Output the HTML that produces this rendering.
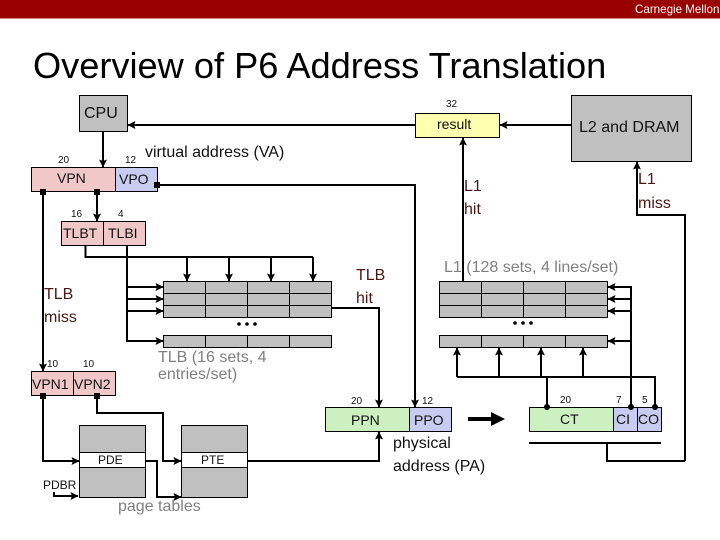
<!DOCTYPE html>
<html><head><meta charset="utf-8"><style>
html,body{margin:0;padding:0;background:#fff}
svg{display:block}
text{font-family:"Liberation Sans",Arial,sans-serif;fill:#111}
.b{fill:#c0c0c0;stroke:#000;stroke-width:1}
.l{fill:none;stroke:#000;stroke-width:2}
.h{fill:#000;stroke:none}
.m{fill:#4a1818}
.g{fill:#808080}
.s{font-size:10px}
.n{font-size:14px}
</style></head><body>
<svg width="720" height="540" viewBox="0 0 720 540" xmlns="http://www.w3.org/2000/svg">
<defs>
<marker id="a" viewBox="0 0 8 8" refX="7.5" refY="4" markerWidth="8" markerHeight="8" markerUnits="userSpaceOnUse" orient="auto"><path d="M0 0L8 4L0 8L1.5 4z" fill="#000"/></marker>
</defs>
<rect width="720" height="18.5" fill="#990000"/>
<text x="635" y="13" font-size="11.6" style="fill:#fff">Carnegie Mellon</text>
<text x="33" y="78" font-size="36.2" style="fill:#000">Overview of P6 Address Translation</text>

<!-- boxes -->
<rect x="79.5" y="95.5" width="48" height="36" class="b"/>
<rect x="415.5" y="113.5" width="84" height="24" fill="#ffffb0" stroke="#000"/>
<rect x="571.5" y="95.5" width="120" height="66" class="b"/>
<rect x="31.5" y="167.5" width="84" height="24" fill="#f0c8c8" stroke="#000"/>
<rect x="115.5" y="167.5" width="42" height="24" fill="#c8ccf0" stroke="#000"/>
<rect x="61.5" y="221.5" width="42" height="24" fill="#f0c8c8" stroke="#000"/>
<rect x="103.5" y="221.5" width="42" height="24" fill="#f0c8c8" stroke="#000"/>
<rect x="31.5" y="371.5" width="42" height="24" fill="#f0c8c8" stroke="#000"/>
<rect x="73.5" y="371.5" width="42" height="24" fill="#f0c8c8" stroke="#000"/>
<rect x="325.5" y="407.5" width="84" height="24" fill="#ccf0c0" stroke="#000"/>
<rect x="409.5" y="407.5" width="42" height="24" fill="#c8ccf0" stroke="#000"/>
<rect x="529.5" y="407.5" width="84" height="24" fill="#ccf0c0" stroke="#000"/>
<rect x="613.5" y="407.5" width="24" height="24" fill="#c8ccf0" stroke="#000"/>
<rect x="637.5" y="407.5" width="24" height="24" fill="#c8ccf0" stroke="#000"/>

<!-- TLB grid -->
<rect x="163.5" y="281.5" width="168" height="36" class="b"/>
<rect x="163.5" y="335.5" width="168" height="12" class="b"/>
<path d="M163.5 293.5H331.5M163.5 305.5H331.5M205.5 281.5V317.5M247.5 281.5V317.5M289.5 281.5V317.5M205.5 335.5V347.5M247.5 335.5V347.5M289.5 335.5V347.5" stroke="#000" fill="none"/>
<!-- L1 grid -->
<rect x="439.5" y="281.5" width="168" height="36" class="b"/>
<rect x="439.5" y="335.5" width="168" height="12" class="b"/>
<path d="M439.5 293.5H607.5M439.5 305.5H607.5M481.5 281.5V317.5M523.5 281.5V317.5M565.5 281.5V317.5M481.5 335.5V347.5M523.5 335.5V347.5M565.5 335.5V347.5" stroke="#000" fill="none"/>
<circle cx="239" cy="324" r="1.8"/><circle cx="247" cy="324" r="1.8"/><circle cx="255" cy="324" r="1.8"/>
<circle cx="515" cy="323" r="1.8"/><circle cx="523" cy="323" r="1.8"/><circle cx="531" cy="323" r="1.8"/>

<!-- page tables -->
<rect x="79.5" y="425.5" width="66" height="72" class="b"/>
<rect x="79.5" y="452.5" width="66" height="15" fill="#fff" stroke="#000"/>
<rect x="181.5" y="425.5" width="66" height="72" class="b"/>
<rect x="181.5" y="452.5" width="66" height="15" fill="#fff" stroke="#000"/>

<!-- connectors -->
<g class="l">
<path class="l" d="M571 125H500" marker-end="url(#a)"/>
<path class="l" d="M415 125H128" marker-end="url(#a)"/>
<path class="l" d="M103 131V167" marker-end="url(#a)"/>
<path class="l" d="M97 191V221" marker-end="url(#a)"/>
<path class="l" d="M43 191V371" marker-end="url(#a)"/>
<path class="l" d="M157 185H415V407" marker-end="url(#a)"/>
<path class="l" d="M463 282V138" marker-end="url(#a)"/>
<path class="l" d="M685 461V215H637V162" marker-end="url(#a)" style="stroke-linejoin:miter"/>
<path class="l" d="M607 443V461H685"/>
<path class="l" d="M529 443H661"/>
<path class="l" d="M85.5 245V257H313"/>
<path class="l" d="M187 257V281" marker-end="url(#a)"/>
<path class="l" d="M229 257V281" marker-end="url(#a)"/>
<path class="l" d="M271 257V281" marker-end="url(#a)"/>
<path class="l" d="M313 257V281" marker-end="url(#a)"/>
<path class="l" d="M127 245V341H163" marker-end="url(#a)"/>
<path class="l" d="M127 287H163" marker-end="url(#a)"/>
<path class="l" d="M127 299H163" marker-end="url(#a)"/>
<path class="l" d="M127 311H163" marker-end="url(#a)"/>
<path class="l" d="M332 308H379V407" marker-end="url(#a)"/>
<path class="l" d="M248 461H379V432" marker-end="url(#a)"/>
<path class="l" d="M631 407V287H608" marker-end="url(#a)"/>
<path class="l" d="M631 299H608" marker-end="url(#a)"/>
<path class="l" d="M631 311H608" marker-end="url(#a)"/>
<path class="l" d="M631 341H608" marker-end="url(#a)"/>
<path class="l" d="M457 377V348" marker-end="url(#a)"/>
<path class="l" d="M499 377V348" marker-end="url(#a)"/>
<path class="l" d="M541 377V348" marker-end="url(#a)"/>
<path class="l" d="M583 377V348" marker-end="url(#a)"/>
<path class="l" d="M457 377H655V407"/>
<path class="l" d="M547 377V407"/>
<path class="l" d="M43 395V461H79" marker-end="url(#a)"/>
<path class="l" d="M97 395V413H163V461H181" marker-end="url(#a)"/>
<path class="l" d="M145 461H157V497H181" marker-end="url(#a)"/>
<path class="l" d="M54 492V496H78" marker-end="url(#a)"/>
</g>
<!-- source dots -->
<rect x="154" y="182" width="6" height="6" class="h"/>
<rect x="40" y="189" width="6" height="6" class="h"/>
<rect x="94" y="189" width="6" height="6" class="h"/>
<rect x="40" y="393" width="6" height="6" class="h"/>
<rect x="94" y="393" width="6" height="6" class="h"/>
<circle cx="547" cy="407" r="3"/><circle cx="631" cy="407" r="3"/><circle cx="655" cy="407" r="3"/>
<!-- big arrow -->
<path d="M468 417H491V412L505 419L491 426V421H468z" fill="#000"/>

<!-- labels -->
<text x="84" y="118" font-size="16">CPU</text>
<text x="437" y="129" class="n">result</text>
<text x="579" y="132" font-size="16">L2 and DRAM</text>
<text x="145" y="157" font-size="16">virtual address (VA)</text>
<text x="58" y="163" class="s">20</text>
<text x="125" y="163" class="s">12</text>
<text x="446" y="107" class="s">32</text>
<text x="57" y="183" class="n">VPN</text>
<text x="119" y="184" class="n">VPO</text>
<text x="71" y="217" class="s">16</text>
<text x="118" y="217" class="s">4</text>
<text x="63" y="238" class="n">TLBT</text>
<text x="108" y="238" class="n">TLBI</text>
<text x="464" y="191" font-size="16" class="m">L1</text>
<text x="464" y="214" font-size="16" class="m">hit</text>
<text x="638" y="184" font-size="16" class="m">L1</text>
<text x="638" y="208" font-size="16" class="m">miss</text>
<text x="44" y="299" font-size="16" class="m">TLB</text>
<text x="44" y="322" font-size="16" class="m">miss</text>
<text x="356" y="280" font-size="16" class="m">TLB</text>
<text x="356" y="303" font-size="16" class="m">hit</text>
<text x="444" y="272" font-size="16" class="g">L1 (128 sets, 4 lines/set)</text>
<text x="158" y="362" font-size="16" class="g">TLB (16 sets, 4</text>
<text x="158" y="379" font-size="16" class="g">entries/set)</text>
<text x="47" y="367" class="s">10</text>
<text x="83" y="367" class="s">10</text>
<text x="32" y="389" class="n">VPN1</text>
<text x="74" y="389" class="n">VPN2</text>
<text x="351" y="404" class="s">20</text>
<text x="422" y="404" class="s">12</text>
<text x="351" y="425" class="n">PPN</text>
<text x="414" y="425" class="n">PPO</text>
<text x="393" y="448" font-size="16">physical</text>
<text x="393" y="471" font-size="16">address (PA)</text>
<text x="560" y="403" class="s">20</text>
<text x="616" y="403" class="s">7</text>
<text x="642" y="403" class="s">5</text>
<text x="560" y="424" class="n">CT</text>
<text x="616" y="424" class="n">CI</text>
<text x="638" y="424" class="n">CO</text>
<text x="98" y="464" font-size="12">PDE</text>
<text x="201" y="464" font-size="12">PTE</text>
<text x="43" y="489" font-size="12">PDBR</text>
<text x="118" y="511" font-size="16" class="g">page tables</text>
</svg>
</body></html>
